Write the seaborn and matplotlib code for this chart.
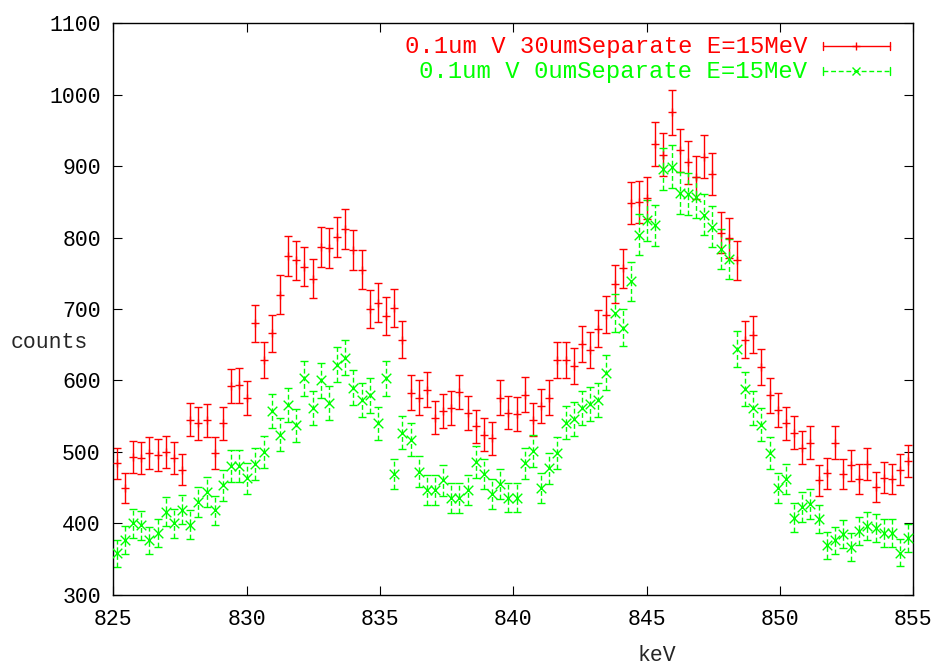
import numpy as np
import pandas as pd
import matplotlib
matplotlib.use("Agg")
import matplotlib.pyplot as plt
import seaborn as sns
from matplotlib.lines import Line2D

# Energy calibration of the spectrum channels (keV)
E0 = 825.13
GAIN = 0.306

# Counts per channel, 0.1um V, 30um separate, E=15MeV
counts_sep30 = [
    484, 449, 493, 491, 498, 496, 500, 491, 475, 545,
    540, 544, 499, 540, 592, 593, 575, 680, 628, 666,
    720, 774, 768, 759, 742, 787, 785, 801, 812, 782,
    755, 700, 709, 690, 701, 657, 583, 576, 587, 548,
    557, 561, 584, 554, 536, 524, 519, 576, 555, 553,
    580, 545, 564, 576, 629, 629, 620, 651, 642, 672,
    692, 735, 757, 848, 850, 855, 931, 916, 975, 922,
    905, 884, 913, 889, 807, 799, 768, 657, 664, 619,
    579, 559, 540, 527, 506, 513, 460, 470, 513, 469,
    481, 462, 483, 451, 464, 462, 475, 487,
]

# Counts per channel, 0.1um V, 0um separate, E=15MeV
counts_sep0 = [
    358, 377, 400, 397, 376, 387, 416, 400, 419, 398,
    430, 444, 418, 453, 480, 480, 463, 483, 500, 557,
    524, 565, 537, 603, 561, 600, 568, 622, 632, 590,
    573, 579, 540, 603, 469, 527, 517, 472, 447, 447,
    460, 435, 435, 447, 486, 469, 441, 455, 436, 436,
    484, 501, 449, 477, 499, 541, 546, 561, 567, 572,
    611, 694, 674, 739, 804, 824, 817, 896, 899, 862,
    861, 856, 832, 815, 784, 770, 644, 588, 561, 538,
    498, 449, 462, 408, 423, 427, 406, 369, 376, 385,
    367, 389, 396, 393, 386, 387, 359, 379,
]

labels = ["0.1um V 30umSeparate E=15MeV", "0.1um V 0umSeparate E=15MeV"]
colors = ["#ff0000", "#00ff00"]

x_ticks = [825, 830, 835, 840, 845, 850, 855]
y_ticks = [300, 400, 500, 600, 700, 800, 900, 1000, 1100]

channels = np.arange(len(counts_sep30))
energy = E0 + GAIN * channels

df = pd.concat([
    pd.DataFrame({"keV": energy, "counts": counts_sep30, "series": labels[0]}),
    pd.DataFrame({"keV": energy, "counts": counts_sep0, "series": labels[1]}),
])
df["err"] = np.sqrt(df["counts"])

sns.set_style("ticks")
plt.rcParams["font.family"] = ["Liberation Mono", "DejaVu Sans Mono"]

fig = plt.figure(figsize=(9.37, 6.68), dpi=100)
ax = fig.add_axes([0.1209, 0.1097, 0.8538, 0.8556])

dashes = [(None, None), (0, (3.5, 2.0))]
markers = ["+", "x"]
sizes = [40, 48]
for lab, col, ds, mk, sz in zip(labels, colors, dashes, markers, sizes):
    sub = df[df["series"] == lab]
    eb = ax.errorbar(sub["keV"], sub["counts"], yerr=sub["err"], fmt="none",
                     ecolor=col, elinewidth=1.0, capsize=3.2, capthick=1.0,
                     zorder=2)
    if ds[0] is not None:
        eb[2][0].set_linestyle(ds)
    sns.scatterplot(data=sub, x="keV", y="counts", marker=mk, color=col,
                    s=sz, linewidth=1.0, ax=ax, zorder=3, legend=False)

ax.set_xlim(825, 855)
ax.set_ylim(300, 1100)
ax.set_xticks(x_ticks)
ax.set_yticks(y_ticks)
ax.set_xticklabels([str(v) for v in x_ticks])
ax.set_yticklabels([str(v) for v in y_ticks])
ax.tick_params(direction="in", length=6.5, width=0.8, labelsize=15.5,
               top=True, right=True, color="black", labelcolor="black")
ax.tick_params(axis="x", pad=10)
ax.tick_params(axis="y", pad=9)
for sp in ax.spines.values():
    sp.set_visible(True)
    sp.set_linewidth(1.0)
    sp.set_color("black")
ax.set_xlabel("")
ax.set_ylabel("")

fig.text(0.011, 0.487, "counts", fontsize=15.5, ha="left", va="center")
fig.text(0.701, 0.019, "keV", fontsize=15.5, ha="center", va="center")

# gnuplot-style key: text on the left, sample on the right
rows = [0.960, 0.916]
for lab, col, ds, mk, yr in zip(labels, colors, dashes, markers, rows):
    ax.text(0.8675, yr, lab, transform=ax.transAxes, color=col,
            fontsize=17.2, ha="right", va="center")
    ls = "-" if ds[0] is None else ds
    ax.add_line(Line2D([0.8875, 0.971], [yr, yr], transform=ax.transAxes,
                       color=col, lw=1.0, linestyle=ls))
    for xe in (0.8875, 0.971):
        ax.add_line(Line2D([xe, xe], [yr - 0.007, yr + 0.007],
                           transform=ax.transAxes, color=col, lw=1.0))
    ax.add_line(Line2D([0.929], [yr], transform=ax.transAxes, color=col,
                       marker=mk, markersize=6, mew=1.0, linestyle="none"))

fig.savefig("out.png", dpi=100, facecolor="white")
